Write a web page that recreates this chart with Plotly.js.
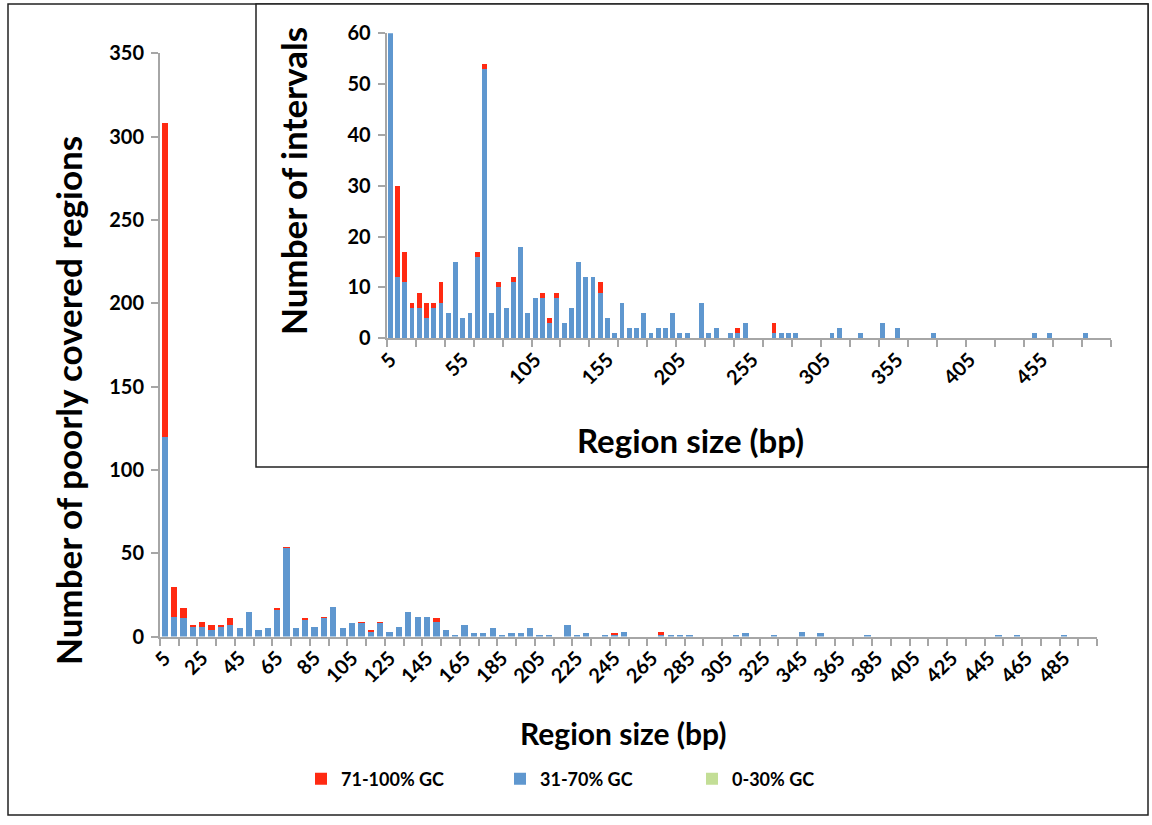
<!DOCTYPE html>
<html>
<head>
<meta charset="utf-8">
<script src="https://cdn.plot.ly/plotly-3.0.1.min.js"></script>
<style>html,body{margin:0;padding:0;background:#fff;}#chart{width:1152px;height:825px;}</style>
</head>
<body>
<div id="chart"></div>
<script>
// Region size categories (bp)
var regionSize = [5,10,15,20,25,30,35,40,45,50,55,60,65,70,75,80,85,90,95,100,
  105,110,115,120,125,130,135,140,145,150,155,160,165,170,175,180,185,190,195,200,
  205,210,215,220,225,230,235,240,245,250,255,260,265,270,275,280,285,290,295,300,
  305,310,315,320,325,330,335,340,345,350,355,360,365,370,375,380,385,390,395,400,
  405,410,415,420,425,430,435,440,445,450,455,460,465,470,475,480,485,490,495,500];

// 31-70% GC counts
var gcMid = [120,12,11,6,6,4,6,7,5,15,4,5,16,53,5,10,6,11,18,5,
  8,8,3,8,3,6,15,12,12,9,4,1,7,2,2,5,1,2,2,5,
  1,1,0,7,1,2,0,1,1,3,0,0,0,1,1,1,1,0,0,0,
  0,1,2,0,0,1,0,0,3,0,2,0,0,0,0,1,0,0,0,0,
  0,0,0,0,0,0,0,0,0,1,0,1,0,0,0,0,1,0,0,0];

// 71-100% GC counts
var gcHigh = [188,18,6,1,3,3,1,4,0,0,0,0,1,1,0,1,0,1,0,0,
  0,1,1,1,0,0,0,0,0,2,0,0,0,0,0,0,0,0,0,0,
  0,0,0,0,0,0,0,0,1,0,0,0,0,2,0,0,0,0,0,0,
  0,0,0,0,0,0,0,0,0,0,0,0,0,0,0,0,0,0,0,0,
  0,0,0,0,0,0,0,0,0,0,0,0,0,0,0,0,0,0,0,0];

// 0-30% GC counts
var gcLow = [0,0,0,0,0,0,0,0,0,0,0,0,0,0,0,0,0,0,0,0,
  0,0,0,0,0,0,0,0,0,0,0,0,0,0,0,0,0,0,0,0,
  0,0,0,0,0,0,0,0,0,0,0,0,0,0,0,0,0,0,0,0,
  0,0,0,0,0,0,0,0,0,0,0,0,0,0,0,0,0,0,0,0,
  0,0,0,0,0,0,0,0,0,0,0,0,0,0,0,0,0,0,0,0];

var seriesNames = ['0-30% GC','31-70% GC','71-100% GC'];
var mainTicks = [5,25,45,65,85,105,125,145,165,185,205,225,245,265,285,305,325,345,365,385,405,425,445,465,485];
var insetTicks = [5,55,105,155,205,255,305,355,405,455];

var W = 1152, H = 825;
function px(x){return x/W;}
function py(y){return 1 - y/H;}

var cLow = '#C3DE96', cMid = '#5F97CF', cHigh = '#FF2A12';
var FONT = 'Lato, "Open Sans", sans-serif';

function mkTraces(xa, ya, legend){
  return [
    {type:'bar', x:regionSize, y:gcLow, name:seriesNames[0], xaxis:xa, yaxis:ya,
     marker:{color:cLow}, showlegend:legend, legend:'legend3', hoverinfo:'skip'},
    {type:'bar', x:regionSize, y:gcMid, name:seriesNames[1], xaxis:xa, yaxis:ya,
     marker:{color:cMid}, showlegend:legend, legend:'legend2', hoverinfo:'skip'},
    {type:'bar', x:regionSize, y:gcHigh, name:seriesNames[2], xaxis:xa, yaxis:ya,
     marker:{color:cHigh}, showlegend:legend, legend:'legend', hoverinfo:'skip'}
  ];
}
var data = mkTraces('x','y',true).concat(mkTraces('x2','y2',false));

var axisLine = '#A6A6A6';
var tickFont = {family:FONT, size:20, color:'#000', weight:700};

function xAxis(domain, anchor, ticks, minorStep){
  return {domain:domain, anchor:anchor, range:[2.5,502.5], type:'linear',
    tickmode:'array', tickvals:ticks, ticktext:ticks.map(String), ticks:'',
    tickangle:-45, tickfont:tickFont, showline:true, linecolor:axisLine, linewidth:2,
    showgrid:false, zeroline:false, fixedrange:true,
    minor:{tickmode:'linear', tick0:2.5, dtick:minorStep, ticks:'outside', ticklen:7,
           tickcolor:axisLine, tickwidth:2, showgrid:false}};
}
function yAxis(domain, anchor, range, dtick){
  return {domain:domain, anchor:anchor, range:range, dtick:dtick, tick0:0,
    ticks:'outside', ticklen:7, tickcolor:axisLine, tickwidth:2,
    tickfont:tickFont, ticklabelstandoff:3, showline:true, linecolor:axisLine, linewidth:2,
    showgrid:false, zeroline:false, fixedrange:true};
}

function tf(sz){ return {family:FONT, size:sz, color:'#000', weight:700}; }
function lg(xpix){
  return {orientation:'h', x:px(xpix), xanchor:'left', y:py(779), yanchor:'middle',
    font:{family:FONT, size:18, color:'#000', weight:700}, bgcolor:'rgba(0,0,0,0)'};
}

var layout = {
  width:W, height:H,
  margin:{l:0,r:0,t:0,b:0,pad:0},
  paper_bgcolor:'#fff', plot_bgcolor:'rgba(0,0,0,0)',
  barmode:'stack', bargap:0.33,
  font:{family:FONT, color:'#000'},
  xaxis: xAxis([px(160), px(1097)], 'y', mainTicks, 10),
  yaxis: yAxis([py(636.6), py(53.3)], 'x', [0,350], 50),
  xaxis2: xAxis([px(386.7), px(1110.7)], 'y2', insetTicks, 20),
  yaxis2: yAxis([py(338.3), py(33.3)], 'x2', [0,60], 10),
  showlegend:true,
  legend: lg(301),
  legend2: lg(500),
  legend3: lg(692),
  shapes:[
    {type:'rect', xref:'paper', yref:'paper', x0:px(8), x1:px(1148), y0:py(815), y1:py(4),
     line:{color:'#222', width:1.5}, fillcolor:'rgba(0,0,0,0)', layer:'below'},
    {type:'rect', xref:'paper', yref:'paper', x0:px(256), x1:px(1148), y0:py(467), y1:py(4),
     line:{color:'#222', width:1.5}, fillcolor:'#fff', layer:'below'}
  ],
  annotations:[
    {text:'Number of poorly covered regions', xref:'paper', yref:'paper', x:px(68), y:py(401),
     showarrow:false, textangle:-90, font:tf(35), xanchor:'center', yanchor:'middle'},
    {text:'Region size (bp)', xref:'paper', yref:'paper', x:px(623), y:py(733),
     showarrow:false, font:tf(30), xanchor:'center', yanchor:'middle'},
    {text:'Number of intervals', xref:'paper', yref:'paper', x:px(293), y:py(181),
     showarrow:false, textangle:-90, font:tf(35), xanchor:'center', yanchor:'middle'},
    {text:'Region size (bp)', xref:'paper', yref:'paper', x:px(690), y:py(440),
     showarrow:false, font:tf(33), xanchor:'center', yanchor:'middle'}
  ]
};

Plotly.newPlot('chart', data, layout, {staticPlot:true, displayModeBar:false});
</script>
</body>
</html>
